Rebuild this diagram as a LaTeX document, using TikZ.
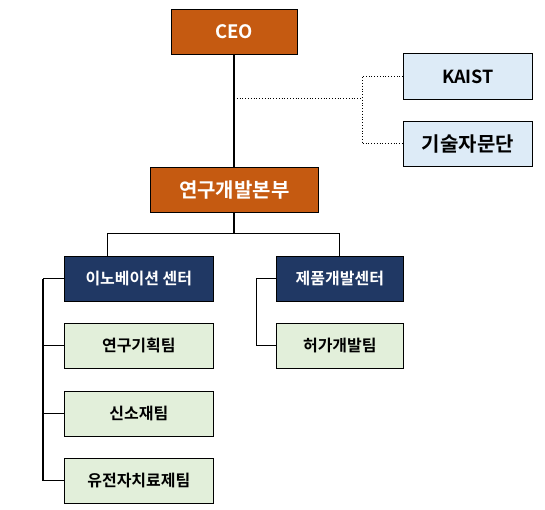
\documentclass[tikz,border=0pt]{standalone}
\usepackage{fontspec}
\setmainfont{Noto Sans CJK KR}[BoldFont={* Bold}]
\definecolor{orangebox}{HTML}{C55A11}
\definecolor{navybox}{HTML}{203864}
\definecolor{bluebox}{HTML}{DDEBF7}
\definecolor{greenbox}{HTML}{E2EFDA}
\tikzset{
  box/.style={draw=black, line width=0.7pt, inner sep=0pt, anchor=north west, font=\bfseries},
  topbox/.style={box, fill=orangebox, text=white, font=\fontsize{18.5}{21}\selectfont\bfseries},
  sidebox/.style={box, fill=bluebox, font=\fontsize{20}{23}\selectfont\bfseries},
  centerbox/.style={box, fill=navybox, text=white, font=\fontsize{16}{19}\selectfont\bfseries},
  teambox/.style={box, fill=greenbox, font=\fontsize{16}{19}\selectfont\bfseries},
  mainline/.style={line width=1.6pt},
  thinline/.style={line width=0.9pt},
  dotline/.style={line width=0.8pt, dotted}
}
\begin{document}
\begin{tikzpicture}[x=1pt,y=-1pt]
\useasboundingbox (0,0) rectangle (545,510);
% boxes
\node[topbox, minimum width=126pt, minimum height=45pt] (ceo) at (171,9) {CEO};
\node[sidebox, font=\fontsize{18}{21}\selectfont\bfseries, minimum width=129pt, minimum height=46pt] (kaist) at (403,53) {KAIST};
\node[sidebox, minimum width=129pt, minimum height=45pt] (adv) at (403,121) {기술자문단};
\node[topbox, font=\fontsize{20}{23}\selectfont\bfseries, minimum width=168pt, minimum height=45pt] (rnd) at (150,167) {연구개발본부};
\node[centerbox, minimum width=149pt, minimum height=45pt] (inno) at (64,256) {이노베이션 센터};
\node[centerbox, minimum width=127pt, minimum height=45pt] (prod) at (276,256) {제품개발센터};
\node[teambox, minimum width=149pt, minimum height=45pt] (plan) at (64,323) {연구기획팀};
\node[teambox, minimum width=149pt, minimum height=45pt] (mat) at (64,391) {신소재팀};
\node[teambox, minimum width=149pt, minimum height=45pt] (gene) at (64,458) {유전자치료제팀};
\node[teambox, minimum width=127pt, minimum height=45pt] (perm) at (276,323) {허가개발팀};
% coordinates
\coordinate (tap) at (234,98);
\coordinate (dj) at (362,98);
\coordinate (rj) at (234,233);
\coordinate (lj) at (107,233);
\coordinate (rr) at (prod.north |- rj);
\coordinate (lb) at (43,0);
\coordinate (rb) at (256,0);
% connectors
\draw[mainline] (ceo.south -| tap) -- (rnd.north -| tap);
\draw[dotline] (tap) -- (dj);
\draw[dotline] (kaist.west) -| (dj) |- (adv.west);
\draw[mainline] (rnd.south -| rj) -- (rj);
\draw[thinline] (lj |- inno.north) -- (lj) -- (rr) -- (prod.north);
\draw[mainline] (lb |- inno.west) -- (lb |- gene.west);
\draw[thinline] (inno.west) -- (lb |- inno.west);
\draw[thinline] (plan.west) -- (lb |- plan.west);
\draw[thinline] (mat.west) -- (lb |- mat.west);
\draw[thinline] (gene.west) -- (lb |- gene.west);
\draw[thinline] (prod.west) -| (rb |- perm.west) -- (perm.west);
\end{tikzpicture}
\end{document}
